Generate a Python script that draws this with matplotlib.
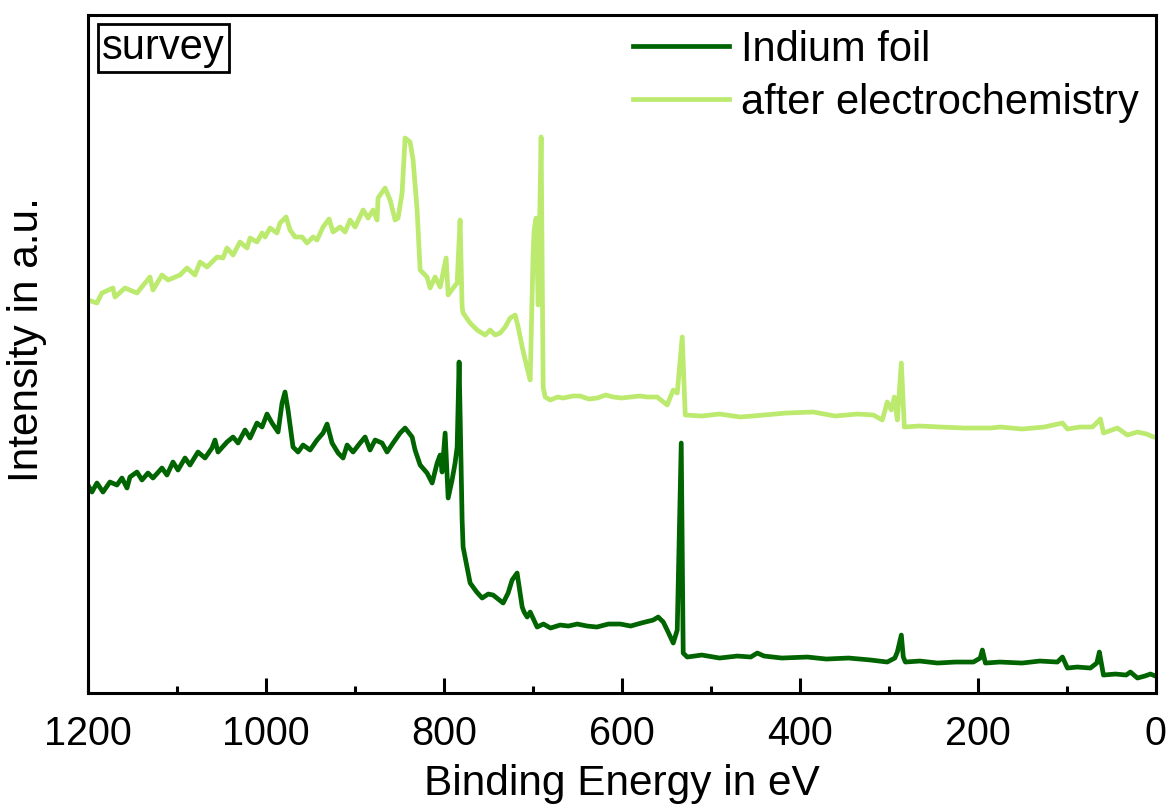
import matplotlib
matplotlib.use("Agg")
import matplotlib.pyplot as plt
from matplotlib.ticker import MultipleLocator

plt.rcParams['font.family'] = ['Liberation Sans', 'DejaVu Sans']

# binding energy (eV) and intensity (a.u.) for the clean indium foil
foil_energy = [
    1200, 1195.5, 1189.9, 1183.1, 1175.3, 1167.4, 1161.8, 1156.1, 1152.8, 1144.9,
    1139.3, 1132.5, 1126.9, 1116.8, 1111.2, 1104.4, 1098.8, 1090.9, 1085.3, 1076.3,
    1068.4, 1060.6, 1057.2, 1053.8, 1043.7, 1036.9, 1031.3, 1023.4, 1017.8, 1010.0,
    1004.3, 998.7, 993.1, 986.3, 981.8, 978.5, 975.1, 969.5, 963.8, 958.2,
    950.3, 942.5, 935.7, 931.2, 925.6, 918.8, 913.2, 908.7, 902.0, 894.1,
    888.5, 882.9, 877.2, 869.4, 863.8, 857.0, 849.1, 843.5, 835.6, 832.3,
    826.6, 818.8, 813.1, 807.5, 804.1, 801.9, 798.5, 795.1, 790.7, 787.3,
    785.0, 782.8, 779.4, 778.3, 770.4, 763.0, 756.9, 750.0, 744.6, 738.9,
    733.3, 727.7, 723.2, 717.6, 711.9, 709.7, 706.3, 702.9, 695.1, 688.0,
    680.0, 669.2, 660.0, 650.0, 638.8, 628.0, 615.0, 601.7, 590.0, 578.0,
    564.6, 559.0, 553.3, 548.9, 542.1, 537.6, 533.1, 530.9, 526.4, 510.0,
    490.0, 470.0, 455.0, 447.6, 440.0, 420.0, 391.4, 370.0, 345.0, 320.0,
    301.5, 293.0, 290.2, 285.7, 283.5, 281.2, 265.0, 245.0, 225.0, 204.7,
    197.0, 194.6, 191.2, 175.0, 150.0, 130.0, 110.3, 104.6, 99.0, 88.0,
    73.2, 66.0, 63.1, 58.5, 45.0, 33.0, 28.2, 20.3, 12.0, 5.7, 0,
]
foil_intensity = [
    208, 201, 210, 201, 211, 208, 215, 205, 216, 221,
    213, 220, 215, 225, 218, 231, 223, 235, 228, 241,
    235, 245, 253, 241, 251, 256, 250, 263, 255, 270,
    266, 279, 270, 261, 290, 301, 283, 246, 241, 248,
    243, 253, 260, 269, 250, 240, 235, 248, 241, 250,
    256, 243, 253, 250, 241, 250, 260, 265, 256, 243,
    228, 220, 210, 230, 238, 221, 260, 195, 213, 230,
    246, 331, 173, 146, 110, 101, 95, 99, 98, 94,
    90, 100, 113, 120, 86, 81, 76, 81, 66, 69,
    65, 68, 67, 69, 67, 66, 69, 69, 67, 70,
    73, 76, 71, 63, 50, 63, 250, 40, 36, 38,
    35, 37, 36, 40, 37, 35, 36, 34, 35, 33,
    31, 35, 41, 58, 36, 31, 32, 30, 31, 31,
    35, 43, 30, 31, 30, 32, 31, 36, 25, 26,
    25, 30, 41, 18, 19, 18, 21, 15, 17, 19, 17,
]

# binding energy (eV) and intensity (a.u.) after electrochemistry
echem_energy = [
    1200, 1189.9, 1184.3, 1171.9, 1169.6, 1158.4, 1144.9, 1130.3, 1126.9, 1116.8,
    1110.0, 1096.5, 1088.7, 1079.7, 1074.0, 1066.2, 1054.9, 1048.2, 1043.7, 1036.9,
    1029.1, 1021.2, 1017.8, 1010.0, 1004.3, 1000.9, 995.3, 987.5, 984.1, 977.3,
    972.8, 967.2, 959.3, 953.7, 947.0, 942.5, 935.7, 929.0, 924.5, 916.6,
    911.0, 905.4, 899.7, 890.7, 885.1, 879.5, 875.0, 873.9, 866.0, 860.4,
    854.7, 851.4, 846.9, 843.5, 837.9, 834.5, 830.0, 826.6, 818.8, 815.4,
    809.8, 804.1, 797.4, 795.1, 789.5, 785.0, 781.7, 779.4, 778.3, 770.4,
    762.5, 753.5, 747.9, 742.3, 736.7, 731.0, 725.4, 719.8, 716.4, 711.9,
    706.3, 702.9, 699.6, 698.4, 696.2, 693.9, 690.6, 688.3, 686.1, 680.4,
    672.0, 665.8, 655.0, 646.7, 637.0, 627.6, 618.0, 609.6, 600.0, 590.5,
    580.0, 571.3, 560.1, 548.9, 542.1, 537.6, 532.0, 528.6, 510.0, 490.0,
    466.8, 440.0, 415.0, 384.7, 360.0, 335.0, 317.2, 307.1, 301.5, 297.0,
    293.6, 290.2, 285.7, 282.3, 265.0, 241.8, 215.0, 185.6, 174.4, 150.0,
    125.0, 104.6, 99.0, 85.0, 70.9, 61.9, 58.5, 42.8, 31.6, 20.3, 10.0, 2.3, 0,
]
echem_intensity = [
    393, 390, 400, 405, 396, 405, 400, 416, 403, 418,
    413, 418, 425, 418, 431, 426, 436, 435, 445, 438,
    451, 445, 455, 451, 460, 456, 465, 460, 470, 476,
    463, 456, 456, 450, 456, 453, 466, 474, 461, 466,
    461, 473, 466, 483, 475, 483, 473, 495, 505, 493,
    473, 475, 500, 555, 551, 533, 483, 423, 416, 405,
    416, 406, 435, 398, 405, 410, 473, 386, 380, 370,
    363, 358, 363, 358, 360, 366, 375, 378, 366, 346,
    325, 313, 440, 463, 475, 388, 556, 306, 296, 293,
    296, 295, 297, 297, 294, 295, 298, 296, 295, 296,
    297, 296, 296, 288, 303, 300, 356, 278, 277, 279,
    276, 278, 280, 281, 277, 279, 278, 273, 291, 283,
    296, 273, 330, 266, 267, 266, 265, 265, 266, 264,
    266, 270, 264, 266, 266, 274, 260, 265, 258, 261,
    259, 256, 256,
]

fig = plt.figure(figsize=(11.68, 8.10), dpi=100)
ax = fig.add_axes([0.0753, 0.1444, 0.914, 0.8371])

ax.plot(foil_energy, foil_intensity, color='#006400', lw=3.4, label='Indium foil')
ax.plot(echem_energy, echem_intensity, color='#bbea6e', lw=3.4,
        label='after electrochemistry')

ax.set_xlim(1200, 0)
ax.set_ylim(0, 678)

ax.xaxis.set_major_locator(MultipleLocator(200))
ax.xaxis.set_minor_locator(MultipleLocator(100))
ax.tick_params(axis='x', which='major', direction='in', length=11, width=2.2,
               labelsize=28.5, pad=16, top=False)
ax.tick_params(axis='x', which='minor', direction='in', length=5, width=2.2,
               top=False)
ax.set_yticks([])
for s in ax.spines.values():
    s.set_linewidth(2.2)

ax.set_xlabel('Binding Energy in eV', fontsize=30.5, labelpad=8)
ax.set_ylabel('Intensity in a.u.', fontsize=30.5)
ax.yaxis.set_label_coords(-0.038, 0.522)

ax.text(0.013, 0.981, 'survey', transform=ax.transAxes, fontsize=30,
        ha='left', va='top',
        bbox=dict(boxstyle='square,pad=0.1', fc='white', ec='black', lw=2))

ax.legend(loc='upper right', frameon=False, fontsize=30, handlelength=2.3,
          handletextpad=0.29, labelspacing=0.32, borderaxespad=0.1,
          bbox_to_anchor=(1.004, 1.009))

fig.savefig('out.png', dpi=100)
